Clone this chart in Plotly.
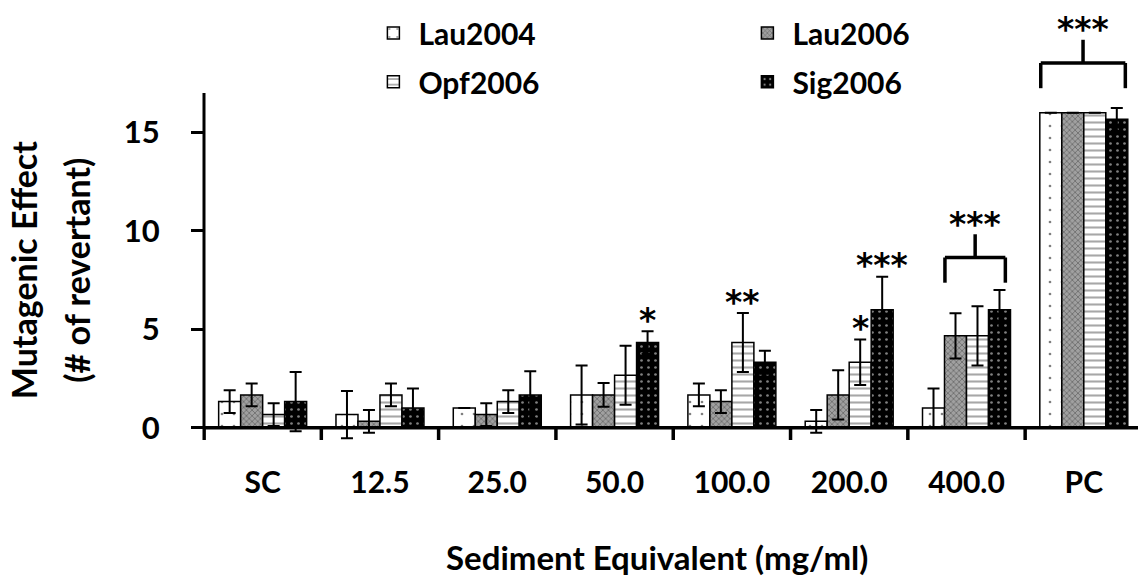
import plotly.graph_objects as go

categories = ["SC", "12.5", "25.0", "50.0", "100.0", "200.0", "400.0", "PC"]
series_names = ["Lau2004", "Lau2006", "Opf2006", "Sig2006"]
lau2004 = [1.33, 0.67, 1.0, 1.67, 1.67, 0.33, 1.0, 16.0]
lau2004_err = [0.58, 1.2, 0.0, 1.5, 0.58, 0.58, 1.0, 0.0]
lau2006 = [1.67, 0.33, 0.67, 1.67, 1.33, 1.67, 4.67, 16.0]
lau2006_err = [0.58, 0.58, 0.58, 0.6, 0.58, 1.25, 1.15, 0.0]
opf2006 = [0.67, 1.67, 1.33, 2.67, 4.33, 3.33, 4.67, 16.0]
opf2006_err = [0.58, 0.58, 0.58, 1.5, 1.5, 1.15, 1.5, 0.0]
sig2006 = [1.33, 1.0, 1.67, 4.33, 3.33, 6.0, 6.0, 15.67]
sig2006_err = [1.5, 1.0, 1.2, 0.58, 0.58, 1.67, 1.0, 0.58]

values = [lau2004, lau2006, opf2006, sig2006]
errors = [lau2004_err, lau2006_err, opf2006_err, sig2006_err]

# significance stars: (category, series, label)
stars = [("50.0", "Sig2006", "*"), ("100.0", "Opf2006", "**"),
         ("200.0", "Opf2006", "*"), ("200.0", "Sig2006", "***")]
# brackets: (category, label)
brackets = [("400.0", "***"), ("PC", "***")]

FONT = "Lato"
STAR_FONT = "DejaVu Sans"
patterns = [
    dict(shape=".", bgcolor="white", fgcolor="black", size=12, solidity=0.04),
    dict(shape="x", bgcolor="#a0a0a0", fgcolor="#303030", size=4, solidity=0.35),
    dict(shape="-", bgcolor="white", fgcolor="#505050", size=7, solidity=0.3),
    dict(shape=".", bgcolor="black", fgcolor="white", size=7, solidity=0.12),
]

fig = go.Figure()
for i, name in enumerate(series_names):
    fig.add_trace(go.Bar(
        x=categories, y=values[i], name=name,
        marker=dict(color=patterns[i]["bgcolor"], pattern=patterns[i],
                    line=dict(color="black", width=1.5)),
        error_y=dict(type="data", array=errors[i], visible=True,
                     color="black", thickness=2, width=6),
        legend="legend" if i in (0, 1) else "legend2",
    ))

n_series = len(series_names)
bargap = 0.25
bw = (1 - bargap) / n_series
offsets = [-(1 - bargap) / 2 + bw * (k + 0.5) for k in range(n_series)]

STAR_SHIFT = 0.35
annotations = []
for cat, ser, lab in stars:
    ci = categories.index(cat)
    si = series_names.index(ser)
    top = values[si][ci] + errors[si][ci]
    annotations.append(dict(x=ci + offsets[si], y=top + 0.9 - STAR_SHIFT, xref="x", yref="y",
                            text=f"<b>{lab}</b>", showarrow=False, yanchor="middle",
                            xanchor="center",
                            font=dict(family=STAR_FONT, size=33, color="black")))

shapes = []
for cat, lab in brackets:
    ci = categories.index(cat)
    tops = [values[s][ci] + errors[s][ci] for s in range(n_series)]
    mx = max(tops)
    if cat == "PC":
        left, right = ci - 0.367, ci + 0.354
        leg_bot = mx + 1.0
    else:
        left, right = ci + offsets[1] - 0.09, ci + offsets[3] + 0.05
        leg_bot = mx + 0.37
    bar_y = leg_bot + 1.28
    stem_top = bar_y + 1.18
    mid = (left + right) / 2
    for x0, y0, x1, y1 in [(left, leg_bot, left, bar_y), (left, bar_y, right, bar_y),
                           (right, bar_y, right, leg_bot), (mid, bar_y, mid, stem_top)]:
        shapes.append(dict(type="line", xref="x", yref="y", x0=x0, y0=y0, x1=x1, y1=y1,
                           line=dict(color="black", width=3.5)))
    annotations.append(dict(x=mid, y=stem_top + 0.86 - STAR_SHIFT, xref="x", yref="y",
                            text=f"<b>{lab}</b>", showarrow=False, yanchor="middle",
                            xanchor="center",
                            font=dict(family=STAR_FONT, size=33, color="black")))

ymin, ymax_axis, ytop = -0.62, 17, 21.73
# y axis line
shapes.append(dict(type="line", xref="paper", yref="y", x0=0, x1=0, y0=ymin, y1=ymax_axis,
                   line=dict(color="black", width=3)))
# x axis line at 0
shapes.append(dict(type="line", xref="paper", yref="y", x0=0, x1=1, y0=0, y1=0,
                   line=dict(color="black", width=3.5)))
# category boundary ticks
for k in range(len(categories) + 1):
    shapes.append(dict(type="line", xref="x", yref="y", x0=k - 0.5, x1=k - 0.5, y0=0, y1=ymin,
                       line=dict(color="black", width=3.5)))

annotations.append(dict(text="<b>Sediment Equivalent (mg/ml)</b>", x=0.485, y=-0.266,
                        xref="paper", yref="paper", showarrow=False,
                        xanchor="center", yanchor="middle",
                        font=dict(family=FONT, size=33, color="black")))
annotations.append(dict(text="<b>Mutagenic Effect</b>", x=-0.1938, y=0.386, textangle=-90,
                        xref="paper", yref="paper", showarrow=False,
                        xanchor="center", yanchor="middle",
                        font=dict(family=FONT, size=34, color="black")))
annotations.append(dict(text="<b>(# of revertant)</b>", x=-0.1364, y=0.386, textangle=-90,
                        xref="paper", yref="paper", showarrow=False,
                        xanchor="center", yanchor="middle",
                        font=dict(family=FONT, size=34, color="black")))

legend_common = dict(orientation="h", xanchor="left", yanchor="middle", x=0.176,
                     entrywidth=319, entrywidthmode="pixels", bgcolor="rgba(0,0,0,0)",
                     itemwidth=40,
                     font=dict(family=FONT, size=30, color="black", weight="bold"))

fig.update_layout(
    width=1138, height=576,
    margin=dict(l=204, r=0, t=0, b=136, autoexpand=False),
    paper_bgcolor="white", plot_bgcolor="white",
    barmode="group", bargap=bargap, bargroupgap=0,
    font=dict(family=FONT, color="black"),
    xaxis=dict(range=[-0.5, 7.462], showline=False, showgrid=False, zeroline=False,
               ticks="", ticklabelstandoff=22, automargin=False,
               tickfont=dict(family=FONT, size=30, color="black", weight="bold")),
    yaxis=dict(range=[ymin, ytop], showline=False, showgrid=False, zeroline=False,
               tickvals=[0, 5, 10, 15], ticks="outside", ticklen=12, tickwidth=3,
               tickcolor="black", ticklabelstandoff=25, automargin=False,
               tickfont=dict(family=FONT, size=31, color="black", weight="bold")),
    legend=dict(y=0.925, **legend_common),
    legend2=dict(y=0.814, **legend_common),
    shapes=shapes, annotations=annotations,
)

fig.write_html("out.html")
